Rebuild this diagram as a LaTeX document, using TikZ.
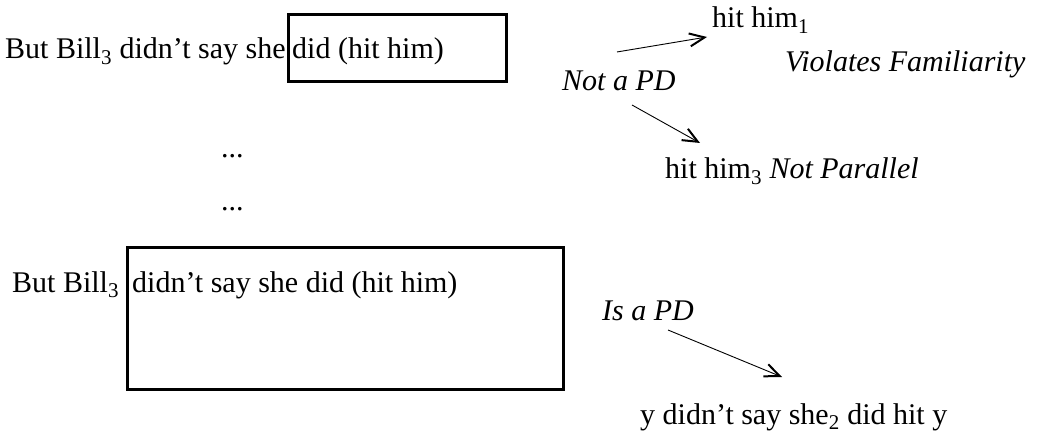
\documentclass[tikz,border=0pt]{standalone}
\usepackage{fontspec}
\setmainfont{Liberation Serif}
\usetikzlibrary{arrows.meta}

\begin{document}
\begin{tikzpicture}[x=1pt,y=-1pt]
\tikzstyle{words}=[anchor=base west,inner sep=0pt,font=\fontsize{30}{36}\selectfont]
\tikzstyle{frame}=[draw,line width=3pt]
\tikzstyle{goes}=[line width=0.9pt,-{Straight Barb[length=15pt,width=13pt,line width=2pt]}]
\useasboundingbox (0,0) rectangle (1048,435);

% first reading
\node[words] (s1a) at (5,59) {But Bill\textsubscript{3} didn't say she};
\node[words] (s1b) at (292,59) {did (hit him)};
\draw[frame] (288,15) rectangle (506,82);
\node[words] (hit1) at (712,28) {hit him\textsubscript{1}};
\node[words] (fam) at (785,72) {\textit{Violates Familiarity}};
\node[words] (notpd) at (562,91) {\textit{Not a PD}};
\node[words] (hit3) at (665,179) {hit him\textsubscript{3} \textit{Not Parallel}};

\node[words] (dots1) at (221,158) {...};
\node[words] (dots2) at (221,211) {...};

% second reading
\node[words] (s2a) at (12,292) {But Bill\textsubscript{3}};
\node[words] (s2b) at (132,292) {didn't say she did (hit him)};
\draw[frame] (127,248) rectangle (563,389);
\node[words] (ispd) at (602,320) {\textit{Is a PD}};
\node[words] (sloppy) at (640,424) {y didn't say she\textsubscript{2} did hit y};

\coordinate (a1) at (617,52);
\coordinate (b1) at (707,37);
\coordinate (a2) at (632,105);
\coordinate (b2) at (700,143);
\coordinate (a3) at (668,330);
\coordinate (b3) at (782,377);
\draw[goes] (a1) -- (b1);
\draw[goes] (a2) -- (b2);
\draw[goes] (a3) -- (b3);
\end{tikzpicture}
\end{document}
